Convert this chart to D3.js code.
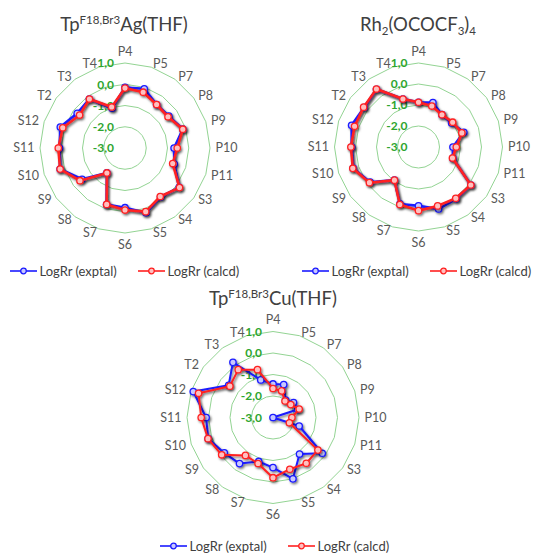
<!DOCTYPE html>
<html>
<head>
<meta charset="utf-8">
<script src="https://cdn.jsdelivr.net/npm/d3@7"></script>
<style>
  html, body { margin: 0; padding: 0; background: #fff; }
  svg { display: block; }
</style>
</head>
<body>
<svg id="chart" width="537" height="556"></svg>
<script>
// ---------------- DATA ----------------
const categories = ["P4","P5","P7","P8","P9","P10","P11","S3","S4","S5","S6","S7","S8","S9","S10","S11","S12","T2","T3","T4"];
const ringValues = [-2, -1, 0, 1];
const tickValues = [1, 0, -1, -2, -3];
const tickLabels = ["1,0", "0,0", "-1,0", "-2,0", "-3,0"];
const seriesNames = ["LogRr (exptal)", "LogRr (calcd)"];

// TpF18,Br3Ag(THF)
const agExptal = [-0.15,-0.07,-0.47,-0.45,-0.14,-0.69,-0.56,0.15,-0.15,0.2,-0.19,-0.2,-1.55,-0.5,0.21,0.08,0.2,-0.22,-0.15,-1.03];
const agCalcd  = [-0.18,-0.24,-0.47,-0.5,-0.14,-0.54,-0.64,0.17,-0.18,0.15,-0.08,-0.21,-1.55,-0.38,0.21,0.14,0.08,-0.36,-0.15,-0.97];
// Rh2(OCOCF3)4
const rhExptal = [-0.87,-0.78,-1.1,-1.05,-0.73,-1.36,-1.28,0.08,0.05,0.1,-0.2,-0.15,-1.05,-0.15,0.27,0.18,0.35,0.2,0.4,-0.6];
const rhCalcd  = [-0.87,-0.95,-1.1,-0.99,-0.83,-1.2,-1.3,0.08,0.02,-0.05,0.03,-0.12,-1.05,-0.11,0.29,0.22,0.2,0.23,0.41,-0.6];
// TpF18,Br3Cu(THF)
const cuExptal = [-1.44,-1.39,-2.0,-1.82,-1.8,-3.0,-1.72,-0.17,-0.9,0.0,-0.67,-0.85,-0.35,-0.2,0.17,0.11,0.9,-0.45,0.17,-1.16];
const cuCalcd  = [-1.65,-1.7,-2.05,-1.98,-1.72,-2.12,-2.2,-0.42,-0.37,-0.47,-0.2,-0.75,-0.82,-0.05,0.18,0.34,0.64,-0.52,-0.25,-0.66];

// ---------------- LAYOUT ----------------
const panels = [
  { cx: 125, cy: 148, R: 85, lw: 2.6,
    title: [{t:"Tp"},{t:"F18,Br3", sup:true},{t:"Ag(THF)"}], tx: 124, ty: 31,
    exptal: agExptal, calcd: agCalcd, lx: 10, ly: 271 },
  { cx: 418.5, cy: 147, R: 84, lw: 2.6,
    title: [{t:"Rh"},{t:"2", sub:true},{t:"(OCOCF"},{t:"3", sub:true},{t:")"},{t:"4", sub:true}], tx: 418, ty: 31,
    exptal: rhExptal, calcd: rhCalcd, lx: 302, ly: 271 },
  { cx: 273, cy: 417.5, R: 86, lw: 2.0,
    title: [{t:"Tp"},{t:"F18,Br3", sup:true},{t:"Cu(THF)"}], tx: 273, ty: 305,
    exptal: cuExptal, calcd: cuCalcd, lx: 160, ly: 546 }
];

const svg = d3.select("#chart");
const defs = svg.append("defs");
const f = defs.append("filter").attr("id","shadow").attr("x","-20%").attr("y","-20%").attr("width","140%").attr("height","140%");
f.append("feDropShadow").attr("dx",1.3).attr("dy",1.6).attr("stdDeviation",1.1)
  .attr("flood-color","#000").attr("flood-opacity",0.55);

const FONT = "Lato, 'Open Sans', sans-serif";
const colors = { exptal: "#1a1aff", calcd: "#ff2020" };
const fills  = { exptal: "#c8c8ff", calcd: "#ffc0c0" };

const n = categories.length;
const angle = d3.scaleLinear().domain([0, n]).range([0, 2 * Math.PI]);

panels.forEach(p => {
  const g = svg.append("g").attr("transform", `translate(${p.cx},${p.cy})`);
  const r = d3.scaleLinear().domain([-3, 1]).range([0, p.R]);

  // rings
  const ringLine = d3.lineRadial()
    .angle((d, i) => angle(i))
    .radius(d => r(d))
    .curve(d3.curveLinearClosed);
  ringValues.forEach(v => {
    g.append("path")
      .attr("d", ringLine(categories.map(() => v)))
      .attr("fill", "none")
      .attr("stroke", "#93d493")
      .attr("stroke-width", 1);
  });

  // category labels
  categories.forEach((c, i) => {
    const a = angle(i);
    const s = Math.sin(a), co = Math.cos(a);
    let x, y, anchor;
    if (Math.abs(s) < 0.01) {
      x = 0; anchor = "middle";
      y = -co * (p.R + 11.5);
    } else {
      x = s * (p.R + 5.5);
      y = -co * (p.R + 3.5);
      anchor = s > 0 ? "start" : "end";
    }
    g.append("text")
      .attr("x", x).attr("y", y)
      .attr("dy", "0.35em")
      .attr("text-anchor", anchor)
      .attr("font-family", FONT)
      .attr("font-size", 12.5)
      .attr("fill", "#595959")
      .text(c);
  });

  // radial tick labels
  tickValues.forEach((v, i) => {
    g.append("text")
      .attr("x", -11).attr("y", -r(v))
      .attr("dy", "0.36em")
      .attr("text-anchor", "end")
      .attr("font-family", FONT)
      .attr("font-weight", "bold")
      .attr("font-size", 12)
      .attr("fill", "#2ea52e")
      .text(tickLabels[i]);
  });

  // series
  const line = d3.lineRadial()
    .angle((d, i) => angle(i))
    .radius(d => r(d))
    .curve(d3.curveLinearClosed);

  [["exptal", p.exptal], ["calcd", p.calcd]].forEach(([key, vals]) => {
    const sg = g.append("g").attr("filter", "url(#shadow)");
    sg.append("path")
      .attr("d", line(vals))
      .attr("fill", "none")
      .attr("stroke", colors[key])
      .attr("stroke-width", p.lw)
      .attr("stroke-linejoin", "round");
    sg.selectAll("circle").data(vals).join("circle")
      .attr("cx", (d, i) => r(d) * Math.sin(angle(i)))
      .attr("cy", (d, i) => -r(d) * Math.cos(angle(i)))
      .attr("r", 3.2)
      .attr("fill", fills[key])
      .attr("stroke", colors[key])
      .attr("stroke-width", 1.3);
  });

  // title
  const tt = svg.append("text")
    .attr("x", p.tx).attr("y", p.ty)
    .attr("text-anchor", "middle")
    .attr("font-family", FONT)
    .attr("font-size", 18.5)
    .attr("fill", "#404040");
  let shift = 0;
  p.title.forEach(part => {
    const ts = tt.append("tspan").text(part.t);
    let target = 0;
    if (part.sup) { ts.attr("font-size", 11.5); target = -7; }
    else if (part.sub) { ts.attr("font-size", 11.5); target = 4; }
    if (target !== shift) { ts.attr("dy", target - shift); shift = target; }
  });

  // legend
  const lg = svg.append("g").attr("transform", `translate(${p.lx},${p.ly})`);
  let xo = 0;
  [["exptal", seriesNames[0]], ["calcd", seriesNames[1]]].forEach(([key, name], k) => {
    const item = lg.append("g").attr("transform", `translate(${xo},0)`);
    item.append("line").attr("x1", 0).attr("x2", 27).attr("y1", 0).attr("y2", 0)
      .attr("stroke", colors[key]).attr("stroke-width", 1.6);
    item.append("circle").attr("cx", 13.5).attr("cy", 0).attr("r", 2.8)
      .attr("fill", fills[key]).attr("stroke", colors[key]).attr("stroke-width", 1.3);
    item.append("text").attr("x", 29.5).attr("y", 0).attr("dy", "0.35em")
      .attr("font-family", FONT).attr("font-size", 13).attr("fill", "#404040")
      .text(name);
    xo += 128;
  });
});
</script>
</body>
</html>
